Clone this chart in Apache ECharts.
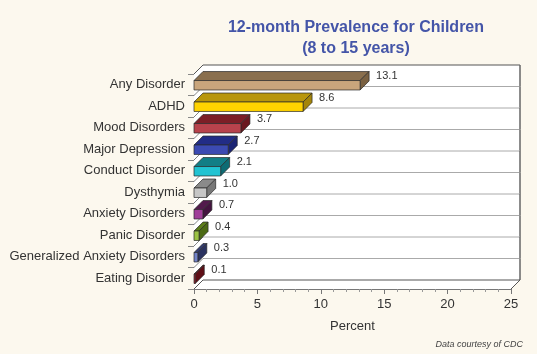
<!DOCTYPE html>
<html>
<head>
<meta charset="utf-8">
<script src="https://cdn.jsdelivr.net/npm/echarts@6/dist/echarts.min.js"></script>
<style>
html,body{margin:0;padding:0;background:#fcf8ee;}
#c{width:537px;height:354px;}
</style>
</head>
<body>
<div id="c"></div>
<script>
var categories = ['Any Disorder','ADHD','Mood Disorders','Major Depression','Conduct Disorder','Dysthymia','Anxiety Disorders','Panic Disorder','Generalized Anxiety Disorders','Eating Disorder'];
var values = [13.1, 8.6, 3.7, 2.7, 2.1, 1.0, 0.7, 0.4, 0.3, 0.1];
var frontColors = ['#c9a57c','#ffd300','#b8424c','#3c4ab2','#22c3d2','#c6c6c6','#a03e98','#9cc244','#7282c8','#b02232'];
var topColors   = ['#8a6f4e','#b8960c','#7c1e26','#222c86','#127e86','#8a8a8a','#521a4c','#5c7c1a','#343c70','#72121c'];
var sideColors  = ['#7a6142','#a4850a','#6a1820','#1c2474','#0e6c74','#777777','#441440','#4c6a14','#2a3260','#600e16'];
var xTicks = [0, 5, 10, 15, 20, 25];

var DX = 9, DY = -9;
var chart = echarts.init(document.getElementById('c'));

function wallItem(params, api) {
  var i = params.dataIndex;
  var p0 = api.coord([0, i]);
  var p1 = api.coord([25, i]);
  var h = api.size([0, 1])[1];
  var yt = p0[1] - h / 2, yb = p0[1] + h / 2;
  var x0 = p0[0], x1 = p1[0];
  var children = [];
  // back wall band
  children.push({type:'rect', shape:{x:x0+DX, y:yt+DY, width:x1-x0, height:h}, style:{fill:'#ffffff', stroke:null}});
  // left wall band
  children.push({type:'polygon', shape:{points:[[x0,yt],[x0+DX,yt+DY],[x0+DX,yb+DY],[x0,yb]]}, style:{fill:'#ffffff'}});
  if (i === 0) {
    children.push({type:'polyline', shape:{points:[[x0,yt],[x0+DX,yt+DY],[x1+DX,yt+DY]]}, style:{stroke:'#555', lineWidth:1, fill:null}});
  } else {
    children.push({type:'line', shape:{x1:x0+DX, y1:yt+DY, x2:x1+DX, y2:yt+DY}, style:{stroke:'#aaaaaa', lineWidth:1}});
    children.push({type:'line', shape:{x1:x0, y1:yt, x2:x0+DX, y2:yt+DY}, style:{stroke:'#666', lineWidth:0.8}});
  }
  // right back edge
  children.push({type:'line', shape:{x1:x1+DX, y1:yt+DY, x2:x1+DX, y2:yb+DY}, style:{stroke:'#666', lineWidth:1.5}});
  if (i === categories.length - 1) {
    // floor
    children.push({type:'polygon', shape:{points:[[x0,yb],[x1,yb],[x1+DX,yb+DY],[x0+DX,yb+DY]]}, style:{fill:'#ffffff', stroke:null}});
    children.push({type:'line', shape:{x1:x0+DX, y1:yb+DY, x2:x1+DX, y2:yb+DY}, style:{stroke:'#555', lineWidth:1}});
    children.push({type:'line', shape:{x1:x0, y1:yb, x2:x0+DX, y2:yb+DY}, style:{stroke:'#555', lineWidth:1}});
    children.push({type:'line', shape:{x1:x1, y1:yb, x2:x1+DX, y2:yb+DY}, style:{stroke:'#555', lineWidth:1}});
  }
  return {type:'group', children:children};
}

function barItem(params, api) {
  var i = params.dataIndex;
  var v = api.value(0);
  var p0 = api.coord([0, i]);
  var p1 = api.coord([v, i]);
  var band = api.size([0, 1])[1];
  var bh = band * 0.44;
  var y0 = p0[1] - bh / 2 + 0.5, y1 = y0 + bh;
  var x0 = p0[0], x1 = p1[0];
  var stroke = '#2a2a2a';
  return {type:'group', children:[
    {type:'polygon', shape:{points:[[x0,y0],[x0+DX,y0+DY],[x1+DX,y0+DY],[x1,y0]]}, style:{fill:topColors[i], stroke:stroke, lineWidth:0.7}},
    {type:'polygon', shape:{points:[[x1,y0],[x1+DX,y0+DY],[x1+DX,y1+DY],[x1,y1]]}, style:{fill:sideColors[i], stroke:stroke, lineWidth:0.7}},
    {type:'rect', shape:{x:x0, y:y0, width:x1-x0, height:bh}, style:{fill:frontColors[i], stroke:stroke, lineWidth:0.7}},
    {type:'text', x:x1+DX+7, y:p0[1]-8.5, style:{text:v.toFixed(1), fill:'#333', font:'11px "Liberation Sans", Arial, sans-serif', align:'left', verticalAlign:'middle'}}
  ]};
}

chart.setOption({
  backgroundColor:'#fcf8ee',
  animation:false,
  title:{
    text:'12-month Prevalence for Children\n(8 to 15 years)',
    left:351, top:12, textAlign:'center',
    textStyle:{color:'#4455a8', fontSize:16, fontWeight:'bold', fontFamily:'"Liberation Sans", Arial, sans-serif', lineHeight:21}
  },
  graphic:[
    {type:'text', right:14, top:340, style:{text:'Data courtesy of CDC', fill:'#444', font:'italic 9px "Liberation Sans", Arial, sans-serif'}}
  ],
  grid:{left:194, right:26, top:74, bottom:65, containLabel:false},
  xAxis:{
    type:'value', min:0, max:25, interval:5,
    name:'Percent', nameLocation:'middle', nameGap:31,
    nameTextStyle:{color:'#333', fontSize:13, fontFamily:'"Liberation Sans", Arial, sans-serif'},
    axisLine:{show:true, lineStyle:{color:'#777', width:1}},
    axisTick:{show:true, length:5, lineStyle:{color:'#777'}},
    minorTick:{show:true, splitNumber:5, length:3, lineStyle:{color:'#999'}},
    splitLine:{show:false},
    axisLabel:{color:'#333', fontSize:13, margin:9, fontFamily:'"Liberation Sans", Arial, sans-serif',
      formatter:function(v){ return xTicks.indexOf(v) >= 0 ? String(v) : ''; }}
  },
  yAxis:{
    type:'category', data:categories, inverse:true,
    axisLine:{show:true, lineStyle:{color:'#666', width:1}},
    axisTick:{show:true, length:6, lineStyle:{color:'#888'}},
    axisLabel:{color:'#333', fontSize:13, margin:9, fontFamily:'"Liberation Sans", Arial, sans-serif'},
    splitLine:{show:false}
  },
  series:[
    {type:'custom', renderItem:wallItem, data:values.map(function(v){return [v];}), encode:{x:0}, z:1, silent:true},
    {type:'custom', renderItem:barItem, data:values.map(function(v){return [v];}), encode:{x:0}, z:3, silent:true}
  ]
});
</script>
</body>
</html>
